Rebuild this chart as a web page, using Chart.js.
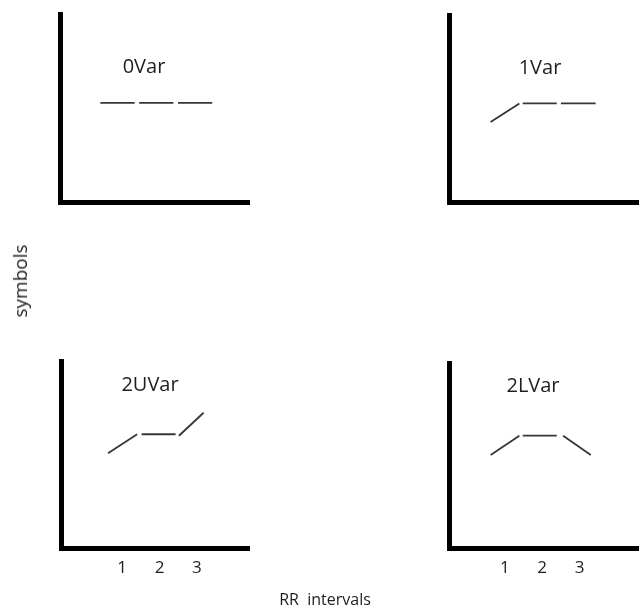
<!DOCTYPE html>
<html>
<head>
<meta charset="utf-8">
<script src="https://cdn.jsdelivr.net/npm/chart.js@4.4.1/dist/chart.umd.min.js"></script>
<style>
  html, body { margin: 0; padding: 0; background: #fff; }
  #wrap { position: relative; width: 639px; height: 610px; overflow: hidden; background: #fff; }
  #wrap canvas { position: absolute; left: 0; top: 0; }
  .lbl { position: absolute; font-family: "Open Sans", sans-serif; color: #1e1e1e; white-space: pre; transform: translate(-50%, -50%); }
</style>
</head>
<body>
<div id="wrap">
  <canvas id="c0" width="639" height="610"></canvas>
  <canvas id="c1" width="639" height="610"></canvas>
  <canvas id="c2" width="639" height="610"></canvas>
  <canvas id="c3" width="639" height="610"></canvas>
  <div class="lbl" style="left:144px;top:65px;font-size:20px;">0Var</div>
  <div class="lbl" style="left:540px;top:66px;font-size:20px;">1Var</div>
  <div class="lbl" style="left:150px;top:383px;font-size:20px;">2UVar</div>
  <div class="lbl" style="left:533px;top:384px;font-size:20px;">2LVar</div>
  <div class="lbl" style="left:20px;top:281px;font-size:19px;transform:translate(-50%,-50%) rotate(-90deg);">symbols</div>
  <div class="lbl" style="left:325px;top:599px;font-size:16px;">RR  intervals</div>
</div>
<script>
// ---- data ----
const intervals = [1, 2, 3];
const tickLabels = ['1', '2', '3'];
const panelNames = ['0Var', '1Var', '2UVar', '2LVar'];

// segment for each RR interval: start (x,y) -> end (x,y)
const var0StartX = [0.52, 1.56, 2.60];
const var0EndX   = [1.44, 2.48, 3.52];
const var0StartY = [5.3, 5.3, 5.3];
const var0EndY   = [5.3, 5.3, 5.3];

const var1StartX = [0.55, 1.41, 2.43];
const var1EndX   = [1.32, 2.32, 3.36];
const var1StartY = [4.3, 5.3, 5.3];
const var1EndY   = [5.3, 5.3, 5.3];

const var2UStartX = [0.62, 1.52, 2.52];
const var2UEndX   = [1.40, 2.43, 3.18];
const var2UStartY = [5.09, 6.11, 6.03];
const var2UEndY   = [6.11, 6.11, 7.26];

const var2LStartX = [0.62, 1.48, 2.56];
const var2LEndX   = [1.39, 2.39, 3.30];
const var2LStartY = [5.05, 6.10, 6.10];
const var2LEndY   = [6.10, 6.10, 5.05];

// ---- layout (not data) ----
const W = 639, H = 610;
const TICK_BAND = 40;
const panels = [
  { id: 'c0', sx: var0StartX, ex: var0EndX, sy: var0StartY, ey: var0EndY,
    area: { left: 60.5, top: 14.5, right: 249.5, bottom: 202.5 }, xMin: -0.55, xMax: 4.52, ticks: false },
  { id: 'c1', sx: var1StartX, ex: var1EndX, sy: var1StartY, ey: var1EndY,
    area: { left: 449.5, top: 15.5, right: 639, bottom: 202.5 }, xMin: -0.55, xMax: 4.52, ticks: false },
  { id: 'c2', sx: var2UStartX, ex: var2UEndX, sy: var2UStartY, ey: var2UEndY,
    area: { left: 61, top: 361.5, right: 249.5, bottom: 548.5 }, xMin: -0.64, xMax: 4.41, ticks: true },
  { id: 'c3', sx: var2LStartX, ex: var2LEndX, sy: var2LStartY, ey: var2LEndY,
    area: { left: 449.5, top: 363.5, right: 639, bottom: 548.5 }, xMin: -0.48, xMax: 4.59, ticks: true }
];

panels.forEach((p, pi) => {
  const band = p.ticks ? TICK_BAND : 0;
  const datasets = intervals.map((iv, i) => ({
    label: panelNames[pi] + ' ' + iv,
    data: [{ x: p.sx[i], y: p.sy[i] }, { x: p.ex[i], y: p.ey[i] }],
    borderColor: '#363636',
    borderWidth: 1.8,
    pointRadius: 0,
    fill: false,
    tension: 0
  }));
  new Chart(document.getElementById(p.id), {
    type: 'line',
    data: { datasets },
    options: {
      responsive: false,
      animation: false,
      devicePixelRatio: 1,
      events: [],
      layout: {
        padding: { left: p.area.left, top: p.area.top, right: W - p.area.right, bottom: H - p.area.bottom - band }
      },
      plugins: { legend: { display: false }, title: { display: false }, tooltip: { enabled: false } },
      scales: {
        x: {
          type: 'linear',
          min: p.xMin, max: p.xMax,
          afterFit: s => { s.height = band; },
          afterBuildTicks: s => { s.ticks = intervals.map(v => ({ value: v })); },
          grid: { display: false, drawTicks: false },
          border: { display: true, color: '#000', width: 5 },
          ticks: {
            display: p.ticks,
            padding: 9,
            color: '#1e1e1e',
            font: { family: 'Open Sans', size: 17 },
            maxRotation: 0,
            autoSkip: false,
            callback: (v, idx) => tickLabels[idx]
          }
        },
        y: {
          type: 'linear',
          min: 0, max: 10,
          afterFit: s => { s.width = 0; },
          grid: { display: false, drawTicks: false },
          border: { display: true, color: '#000', width: 5 },
          ticks: { display: false }
        }
      }
    }
  });
});
</script>
</body>
</html>
